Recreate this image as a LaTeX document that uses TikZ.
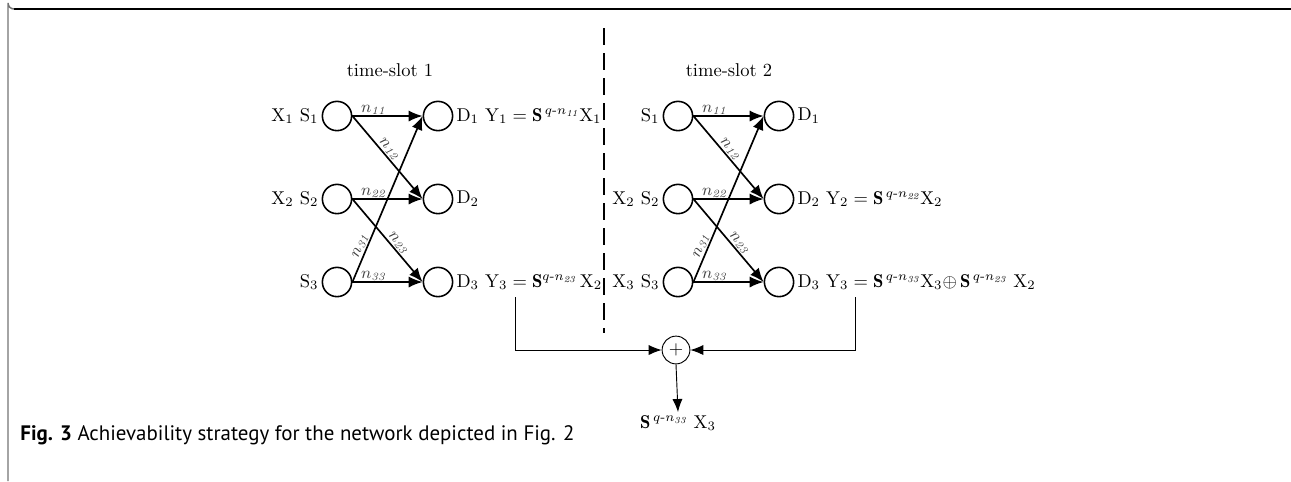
\documentclass[tikz,border=0pt]{standalone}
\usepackage{amsmath}
\usepackage{fontspec}
\newfontfamily\capfont{PT Sans}
\usetikzlibrary{arrows.meta}
\begin{document}
\begin{tikzpicture}[x=0.54pt,y=-0.54pt,
  nd/.style={circle,draw,line width=0.85pt,minimum size=15.8pt,inner sep=0pt},
  link/.style={line width=0.9pt,-{Latex[length=7.5pt,width=6pt]}},
  lab/.style={font=\small,text=black!75,inner sep=0.5pt},
  txt/.style={inner sep=1.5pt},
  thinarrow/.style={line width=0.5pt,-{Latex[length=7pt,width=5.5pt]}},
  frameline/.style={line width=0.8pt}]
\useasboundingbox (0,0) rectangle (1291,481);
% frame
\draw[frameline] (1291,9) -- (14,9);
\draw[frameline,black!55] (14,9) arc[start angle=90,end angle=180,radius=6] -- (8,481);
% time-slot titles
\node (t1) at (390,70) {time-slot 1};
\node (t2) at (729,70) {time-slot 2};
% divider
\coordinate (dvt) at (604,28);
\coordinate (dvb) at (604,333);
\draw[line width=0.55pt,dash pattern=on 9pt off 4.5pt] (dvt) -- (dvb);
% ---------------- time-slot 1
\node[nd] (a1) at (337,116) {};
\node[nd] (a2) at (337,199) {};
\node[nd] (a3) at (337,282) {};
\node[nd] (b1) at (438,116) {};
\node[nd] (b2) at (438,199) {};
\node[nd] (b3) at (438,282) {};
\node[txt,anchor=east] (la1) at (a1.west) {X$_1$ S$_1$};
\node[txt,anchor=east] (la2) at (a2.west) {X$_2$ S$_2$};
\node[txt,anchor=east] (la3) at (a3.west) {S$_3$};
\node[txt,anchor=west] (lb1) at (b1.east) {D$_1$ $\mathrm{Y}_1=\mathbf{S}^{\,q\text{-}n_{\mathit{11}}}\mathrm{X}_1$};
\node[txt,anchor=west] (lb2) at (b2.east) {D$_2$};
\node[txt,anchor=west] (lb3) at (b3.east) {D$_3$ $\mathrm{Y}_3=\mathbf{S}^{q\text{-}n_{\mathit{23}}}\,\mathrm{X}_2$};
\draw[link] (a1.east) -- node[lab,above,pos=0.3] {$n_{\mathit{11}}$} (b1.west);
\draw[link] (a1.east) -- node[lab,above,sloped,pos=0.45] {$n_{\mathit{12}}$} (b2.west);
\draw[link] (a2.east) -- node[lab,above,pos=0.3] {$n_{\mathit{22}}$} (b2.west);
\draw[link] (a2.east) -- node[lab,above,sloped,pos=0.58] {$n_{\mathit{23}}$} (b3.west);
\draw[link] (a3.east) -- node[lab,above,pos=0.3] {$n_{\mathit{33}}$} (b3.west);
\draw[link] (a3.east) -- node[lab,above,sloped,pos=0.2] {$n_{\mathit{31}}$} (b1.west);
% ---------------- time-slot 2
\node[nd] (c1) at (678,116) {};
\node[nd] (c2) at (678,199) {};
\node[nd] (c3) at (678,282) {};
\node[nd] (e1) at (779,116) {};
\node[nd] (e2) at (779,199) {};
\node[nd] (e3) at (779,282) {};
\node[txt,anchor=east] (lc1) at (c1.west) {S$_1$};
\node[txt,anchor=east] (lc2) at (c2.west) {X$_2$ S$_2$};
\node[txt,anchor=east] (lc3) at (c3.west) {X$_3$ S$_3$};
\node[txt,anchor=west] (le1) at (e1.east) {D$_1$};
\node[txt,anchor=west] (le2) at (e2.east) {D$_2$ $\mathrm{Y}_2=\mathbf{S}^{\,q\text{-}n_{\mathit{22}}}\mathrm{X}_2$};
\node[txt,anchor=west] (le3) at (e3.east) {D$_3$ $\mathrm{Y}_3=\mathbf{S}^{\,q\text{-}n_{\mathit{33}}}\mathrm{X}_3{\oplus}\,\mathbf{S}^{\,q\text{-}n_{\mathit{23}}}\ \mathrm{X}_2$};
\draw[link] (c1.east) -- node[lab,above,pos=0.3] {$n_{\mathit{11}}$} (e1.west);
\draw[link] (c1.east) -- node[lab,above,sloped,pos=0.45] {$n_{\mathit{12}}$} (e2.west);
\draw[link] (c2.east) -- node[lab,above,pos=0.3] {$n_{\mathit{22}}$} (e2.west);
\draw[link] (c2.east) -- node[lab,above,sloped,pos=0.58] {$n_{\mathit{23}}$} (e3.west);
\draw[link] (c3.east) -- node[lab,above,pos=0.3] {$n_{\mathit{33}}$} (e3.west);
\draw[link] (c3.east) -- node[lab,above,sloped,pos=0.2] {$n_{\mathit{31}}$} (e1.west);
% ---------------- combining
\node[circle,draw,line width=0.5pt,minimum size=15pt,inner sep=0pt] (add) at (676,350) {$+$};
\coordinate (l3) at (515,297);
\coordinate (r3) at (855,297);
\draw[thinarrow] (l3) |- (add.west);
\draw[thinarrow] (r3) |- (add.east);
\node[txt] (out) at (678,423) {$\mathbf{S}^{\,q\text{-}n_{\mathit{33}}}\ \mathrm{X}_3$};
\draw[thinarrow] (add.south) -- (out.north);
% caption
\node[anchor=base west,inner sep=0pt,font=\capfont\fontsize{11.3}{13}\selectfont] (cap) at (20,440) {\textbf{Fig. 3} Achievability strategy for the network depicted in Fig. 2};
\end{tikzpicture}
\end{document}
